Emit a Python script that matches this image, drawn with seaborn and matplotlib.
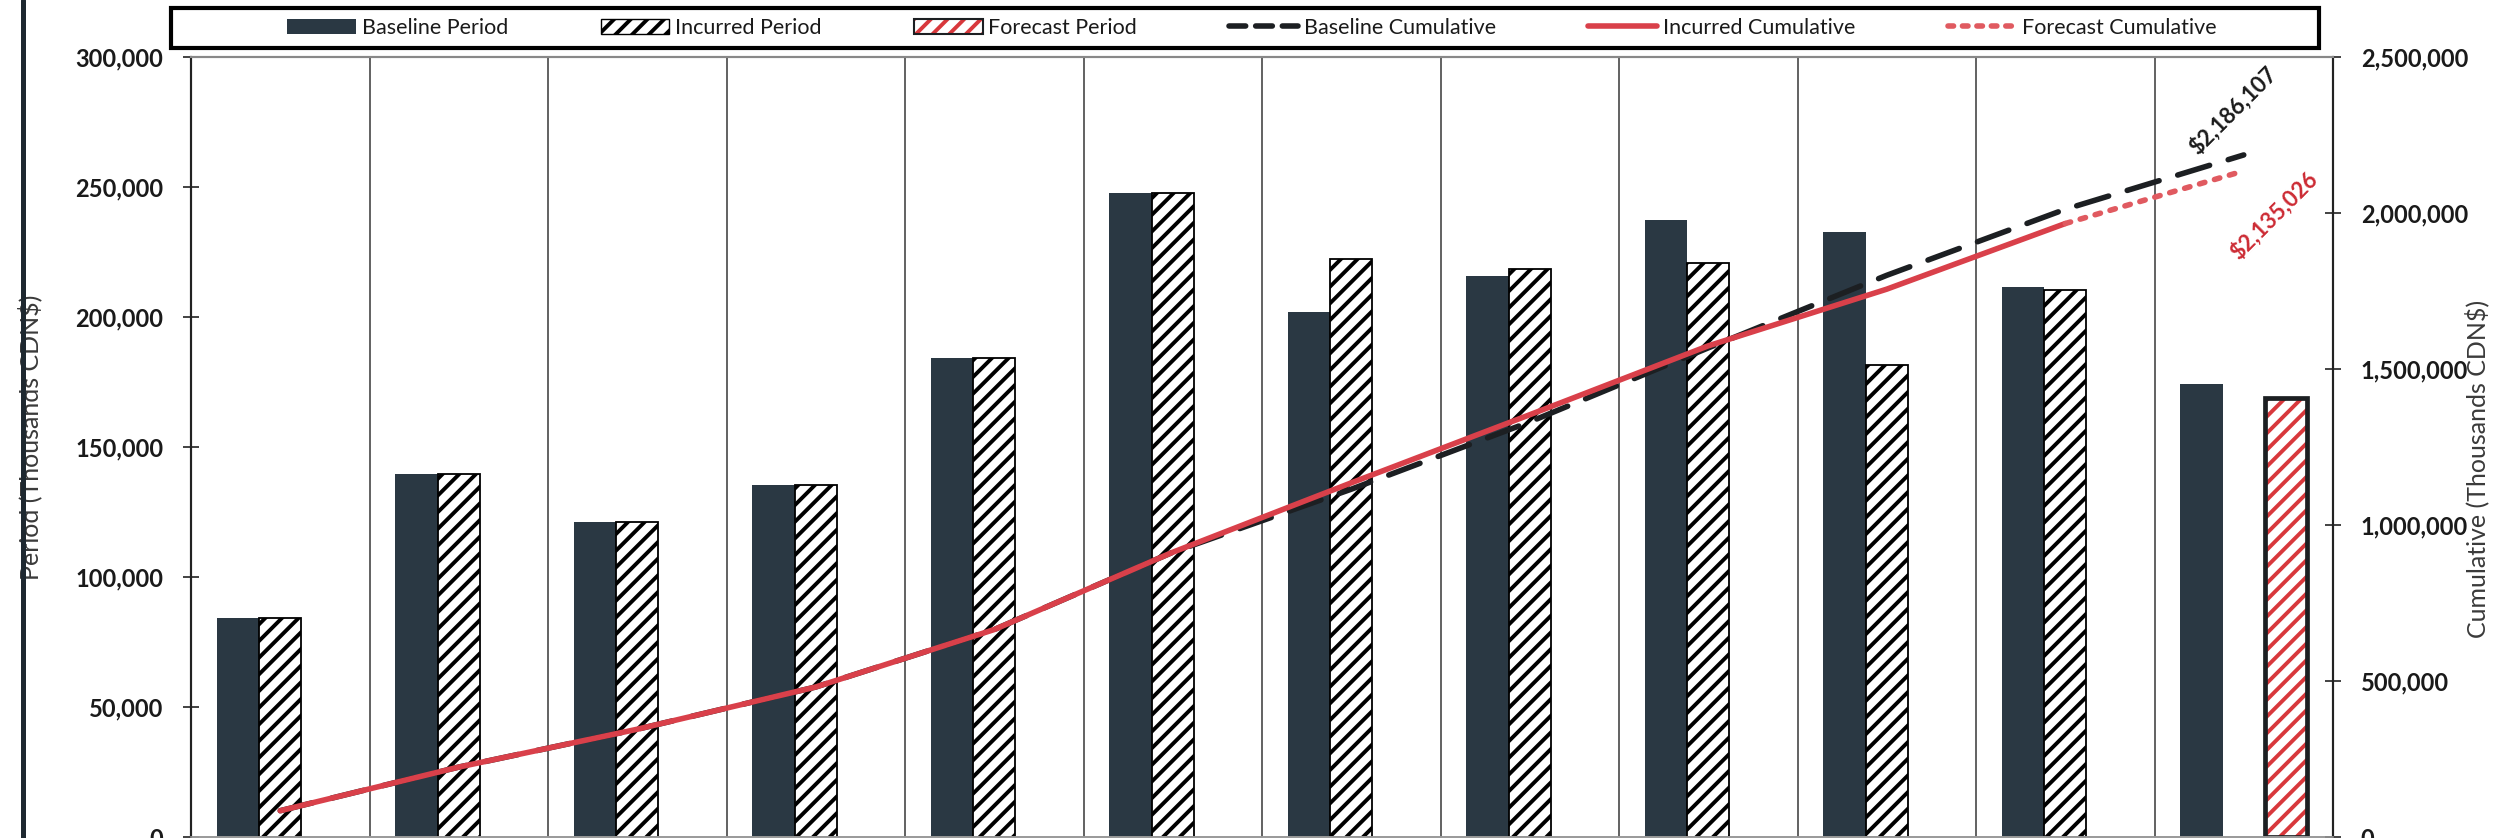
import numpy as np
import pandas as pd
import matplotlib
matplotlib.use("Agg")
import matplotlib.pyplot as plt
import seaborn as sns
from matplotlib.patches import Patch, Rectangle
from matplotlib.lines import Line2D

# ---------------- data ----------------
periods = ["P1", "P2", "P3", "P4", "P5", "P6", "P7", "P8", "P9", "P10", "P11", "P12"]
series_names = ["Baseline Period", "Incurred Period", "Forecast Period"]

baseline_period = [84300, 139800, 121300, 135400, 184100, 247800,
                   202000, 215700, 237300, 232600, 211600, 174207]
incurred_period = [84300, 139800, 121300, 135400, 184100, 247800,
                   222400, 218300, 220800, 181700, 210300, np.nan]
forecast_period = [np.nan, np.nan, np.nan, np.nan, np.nan, np.nan,
                   np.nan, np.nan, np.nan, np.nan, np.nan, 168826]

baseline_cumulative = [84300, 224100, 345400, 480800, 664900, 912700,
                       1114700, 1330400, 1567700, 1800300, 2011900, 2186107]
incurred_cumulative = [84300, 224100, 345400, 480800, 664900, 912700,
                       1135100, 1353400, 1574200, 1755900, 1966200]
forecast_cumulative = [1966200, 2135026]

left_ticks = [0, 50000, 100000, 150000, 200000, 250000, 300000]
right_ticks = [0, 500000, 1000000, 1500000, 2000000, 2500000]

baseline_label = "\\$2,186,107"
forecast_label = "\\$2,135,026"

# ---------------- style ----------------
NAVY = "#2a3843"
RED = "#d9404a"
RED_LIGHT = "#e05a60"
RED_HATCH = "#d8383c"
DARK = "#1c1f22"

sns.set_style("white")
plt.rcParams["font.family"] = ["Lato", "DejaVu Sans"]
plt.rcParams["hatch.linewidth"] = 2.8

W, H = 2501, 838
fig = plt.figure(figsize=(W / 100, H / 100), dpi=100)
fig.patch.set_facecolor("white")
L, R, T, B = 191, 2333, 57, 837
ax = fig.add_axes([L / W, (H - B) / H, (R - L) / W, (B - T) / H])

df = pd.DataFrame({
    "period": periods * 3,
    "series": [series_names[0]] * 12 + [series_names[1]] * 12 + [series_names[2]] * 12,
    "value": baseline_period + incurred_period + forecast_period,
})

sns.barplot(data=df, x="period", y="value", hue="series", order=periods,
            hue_order=series_names, width=0.71, gap=0, ax=ax, legend=False,
            saturation=1, palette=[NAVY, "white", "white"], errorbar=None)

for cont, name in zip(ax.containers, series_names):
    for p in cont:
        h = p.get_height()
        if not np.isfinite(h) or h == 0:
            continue
        if name == "Baseline Period":
            p.set_facecolor(NAVY)
            p.set_edgecolor("none")
            p.set_linewidth(0)
        elif name == "Incurred Period":
            p.set_facecolor("white")
            p.set_edgecolor("black")
            p.set_linewidth(1.3)
            p.set_hatch("//")
        else:
            p.set_facecolor("white")
            p.set_edgecolor(RED_HATCH)
            p.set_linewidth(0)
            p.set_hatch("//")
            ax.add_patch(Rectangle((p.get_x(), p.get_y()), p.get_width(), h,
                                   fill=False, edgecolor=DARK, linewidth=3.4,
                                   zorder=p.get_zorder() + 0.1))

ax.set_xlim(-0.5, 11.5)
ax.set_ylim(0, 300000)
ax.set_yticks(left_ticks, labels=[f"{v:,}" for v in left_ticks],
              fontweight="bold", fontsize=17)
ax.tick_params(axis="y", direction="inout", length=12, width=1.2, pad=14,
               labelcolor="#1a1a1a", color="#222222")
ax.tick_params(axis="x", which="both", length=0, labelbottom=False)
ax.set_xticks(np.arange(-0.5, 12, 1), minor=True)
ax.grid(False)
ax.grid(which="minor", axis="x", color="#555555", linewidth=1.3)
ax.set_axisbelow(True)
ax.set_xlabel("")
ax.set_ylabel("Period (Thousands CDN\\$)", fontsize=18, color="#3a3a3a")
ax.yaxis.set_label_coords(-0.0696, 0.513)

ax2 = ax.twinx()
x_all = list(range(len(periods)))
sns.lineplot(x=x_all, y=baseline_cumulative, ax=ax2, color=DARK,
             linewidth=4.0, linestyle=(0, (6.0, 3.5)), dash_capstyle="round")
sns.lineplot(x=x_all[:11], y=incurred_cumulative, ax=ax2, color=RED,
             linewidth=4.0, solid_capstyle="round")
sns.lineplot(x=x_all[10:], y=forecast_cumulative, ax=ax2, color=RED_LIGHT,
             linewidth=4.0, linestyle=(0, (1.0, 1.8)), dash_capstyle="round")

ax2.set_xlim(-0.5, 11.5)
ax2.set_ylim(0, 2500000)
ax2.set_yticks(right_ticks, labels=[f"{v:,}" for v in right_ticks],
               fontweight="bold", fontsize=17)
ax2.tick_params(axis="y", direction="inout", length=12, width=1.2, pad=14,
                labelcolor="#1a1a1a", color="#222222")
ax2.set_ylabel("Cumulative (Thousands CDN\\$)", fontsize=18, color="#3a3a3a")
ax2.yaxis.set_label_coords(1.0616, 0.472)

for a in (ax, ax2):
    a.spines["left"].set_color("#222222")
    a.spines["right"].set_color("#222222")
    a.spines["left"].set_linewidth(1.5)
    a.spines["right"].set_linewidth(1.5)
    a.spines["top"].set_color("#888888")
    a.spines["top"].set_linewidth(1.5)
    a.spines["bottom"].set_color("#999999")
    a.spines["bottom"].set_linewidth(1.2)

ax2.annotate(baseline_label, xy=(x_all[-1], baseline_cumulative[-1]),
             xytext=(-8, 32), textcoords="offset points", rotation=45,
             ha="center", va="center", fontsize=16, fontweight="bold",
             color="#1a1a1a")
ax2.annotate(forecast_label, xy=(x_all[-1], forecast_cumulative[-1]),
             xytext=(22, -32), textcoords="offset points", rotation=45,
             ha="center", va="center", fontsize=16, fontweight="bold",
             color="#cc2a33")

# ---------------- legend ----------------
handles = [
    Patch(facecolor=NAVY, edgecolor="none"),
    Patch(facecolor="white", edgecolor="black", hatch="//", linewidth=1.0),
    (Patch(facecolor="white", edgecolor=RED_HATCH, hatch="//", linewidth=0),
     Patch(fill=False, edgecolor=DARK, linewidth=1.5)),
    Line2D([], [], color=DARK, linewidth=4.0, linestyle=(0, (3.0, 1.8)),
           dash_capstyle="round"),
    Line2D([], [], color=RED, linewidth=4.0, solid_capstyle="round"),
    Line2D([], [], color=RED_LIGHT, linewidth=4.0, linestyle=(0, (1.0, 1.6)),
           dash_capstyle="round"),
]
labels = ["Baseline Period", "Incurred Period", "Forecast Period",
          "Baseline Cumulative", "Incurred Cumulative", "Forecast Cumulative"]
fig.legend(handles, labels, loc="center", bbox_to_anchor=(1252 / W, 1 - 28 / H),
           ncol=6, frameon=False, fontsize=15.5, handlelength=3.2,
           handletextpad=0.25, columnspacing=4.3, labelcolor="#1a1a1a")
fig.add_artist(Rectangle((171 / W, 1 - 48 / H), (2319 - 171) / W, 40 / H,
                         transform=fig.transFigure, fill=False,
                         edgecolor="black", linewidth=3))
fig.add_artist(Line2D([22.5 / W, 22.5 / W], [0, 1], transform=fig.transFigure,
                      color="#1e2830", linewidth=3.6))

fig.savefig("out.png", dpi=100, facecolor="white")
